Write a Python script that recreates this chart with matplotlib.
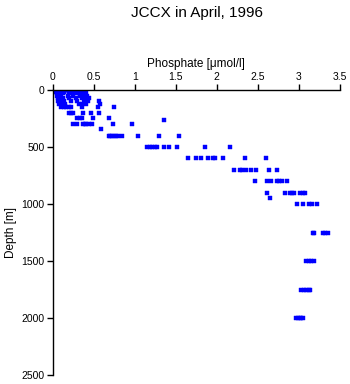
import numpy as np
import matplotlib
matplotlib.use('Agg')
import matplotlib.pyplot as plt

plt.rcParams['font.family'] = ['Liberation Sans', 'DejaVu Sans']

# standard sampling depths [m] and phosphate values read at each depth [umol/l]
depths = [0, 10, 20, 30, 50, 75, 100, 125, 150, 200, 250, 265, 300, 340,
          400, 500, 600, 700, 800, 900, 950, 1000, 1250, 1500, 1750, 2000]
phosphate = [
    [0.03, 0.05, 0.07, 0.08, 0.10, 0.12, 0.15, 0.18],
    [0.03, 0.05, 0.06, 0.09, 0.12, 0.14, 0.20],
    [0.04, 0.06, 0.08, 0.10, 0.13, 0.22, 0.25, 0.28],
    [0.05, 0.07, 0.09, 0.12, 0.20, 0.30, 0.32, 0.35, 0.40],
    [0.05, 0.08, 0.10, 0.18, 0.25, 0.33, 0.38, 0.42],
    [0.06, 0.09, 0.12, 0.20, 0.28, 0.35, 0.40, 0.44],
    [0.06, 0.10, 0.14, 0.22, 0.30, 0.38, 0.43, 0.56],
    [0.08, 0.12, 0.15, 0.32, 0.36, 0.41, 0.58],
    [0.10, 0.13, 0.16, 0.20, 0.22, 0.36, 0.55, 0.74],
    [0.20, 0.22, 0.25, 0.37, 0.47, 0.56],
    [0.29, 0.33, 0.35, 0.49, 0.68],
    [1.36],
    [0.25, 0.30, 0.37, 0.39, 0.41, 0.44, 0.48, 0.73, 0.97],
    [0.59],
    [0.68, 0.70, 0.72, 0.74, 0.77, 0.80, 0.84, 1.04, 1.29, 1.54],
    [1.15, 1.18, 1.21, 1.24, 1.27, 1.36, 1.42, 1.52, 1.85, 2.16],
    [1.65, 1.74, 1.81, 1.89, 1.95, 1.98, 2.07, 2.34, 2.60],
    [2.21, 2.28, 2.31, 2.36, 2.42, 2.48, 2.64, 2.73],
    [2.46, 2.61, 2.66, 2.73, 2.76, 2.79, 2.85],
    [2.61, 2.83, 2.89, 2.92, 2.94, 3.02, 3.05, 3.07],
    [2.65],
    [2.98, 3.05, 3.12, 3.16, 3.22],
    [3.17, 3.19, 3.29, 3.32, 3.35],
    [3.09, 3.12, 3.15, 3.19],
    [3.03, 3.06, 3.09, 3.12, 3.14],
    [2.97, 2.99, 3.01, 3.03, 3.05],
]

x = []
y = []
for d, vals in zip(depths, phosphate):
    for v in vals:
        x.append(v)
        y.append(d)

fig = plt.figure(figsize=(3.5, 3.84), dpi=100)
ax = fig.add_axes([0.151, 0.023, 0.82, 0.743])
ax.plot(x, y, 's', color='#0000ff', markersize=2.2, markeredgewidth=0.3,
        markeredgecolor='#0000ff')

ax.set_xlim(0, 3.5)
ax.set_ylim(2500, 0)
ax.set_xticks(np.arange(0, 3.51, 0.5))
ax.set_xticklabels(['0', '0.5', '1', '1.5', '2', '2.5', '3', '3.5'])
ax.set_yticks([0, 500, 1000, 1500, 2000, 2500])

ax.xaxis.set_ticks_position('top')
ax.xaxis.set_label_position('top')
ax.spines['right'].set_visible(False)
ax.spines['bottom'].set_visible(False)
ax.spines['top'].set_linewidth(1.0)
ax.spines['left'].set_linewidth(1.0)
ax.tick_params(axis='both', direction='out', length=4, width=1.0,
               labelsize=7.5, pad=2)

ax.set_xlabel('Phosphate [μmol/l]', fontsize=8.5, labelpad=3)
ax.set_ylabel('Depth [m]', fontsize=8.5, labelpad=3)
fig.suptitle('JCCX in April, 1996', x=0.562, y=0.985, fontsize=11)

fig.savefig('out.png', dpi=100)
